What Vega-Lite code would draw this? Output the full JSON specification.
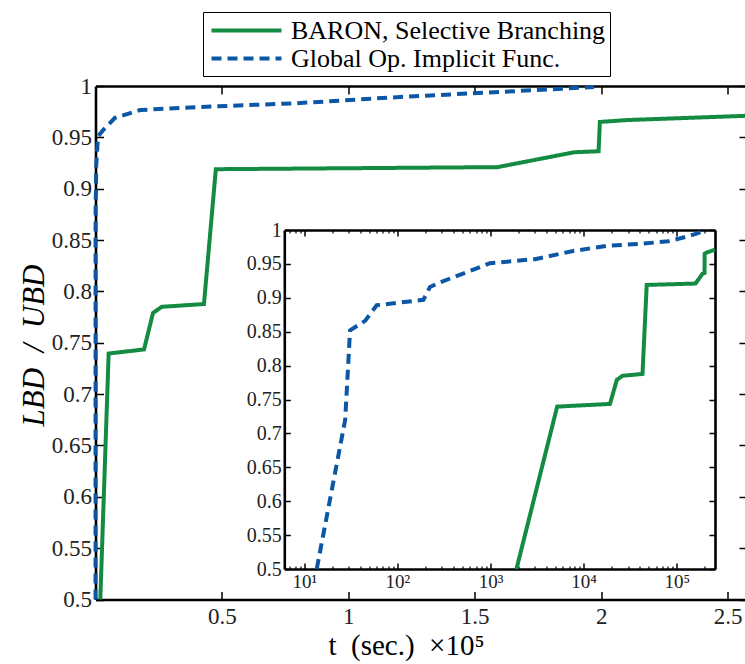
{
  "$schema": "https://vega.github.io/schema/vega-lite/v6.json",
  "autosize": "none",
  "padding": {"left": 95.5, "top": 86, "right": 0, "bottom": 64},
  "width": 651.5,
  "height": 513.5,
  "background": "white",
  "config": {
    "view": {"stroke": null},
    "font": "Liberation Serif, DejaVu Serif, serif",
    "axis": {
      "grid": false,
      "domainColor": "black",
      "domainWidth": 2.6,
      "tickColor": "black",
      "tickWidth": 1.5,
      "labelFont": "Liberation Serif, DejaVu Serif, serif",
      "labelColor": "#222",
      "labelFontWeight": "normal",
      "titleFont": "Liberation Serif, DejaVu Serif, serif",
      "titleColor": "black",
      "titleFontWeight": "normal"
    },
    "line": {"strokeCap": "butt"}
  },
  "datasets": {
    "runs": [
      {"series": "BARON, Selective Branching", "t": 1900, "v": 0.5},
      {"series": "BARON, Selective Branching", "t": 5200, "v": 0.7395},
      {"series": "BARON, Selective Branching", "t": 19200, "v": 0.7435},
      {"series": "BARON, Selective Branching", "t": 22750, "v": 0.779},
      {"series": "BARON, Selective Branching", "t": 26200, "v": 0.785},
      {"series": "BARON, Selective Branching", "t": 42900, "v": 0.7877},
      {"series": "BARON, Selective Branching", "t": 47600, "v": 0.919},
      {"series": "BARON, Selective Branching", "t": 159000, "v": 0.921},
      {"series": "BARON, Selective Branching", "t": 189400, "v": 0.9355},
      {"series": "BARON, Selective Branching", "t": 199000, "v": 0.9365},
      {"series": "BARON, Selective Branching", "t": 199500, "v": 0.965},
      {"series": "BARON, Selective Branching", "t": 210000, "v": 0.9668},
      {"series": "BARON, Selective Branching", "t": 257700, "v": 0.971},
      {"series": "Global Op. Implicit Func.", "t": 13.6, "v": 0.5},
      {"series": "Global Op. Implicit Func.", "t": 27.5, "v": 0.72},
      {"series": "Global Op. Implicit Func.", "t": 31, "v": 0.852},
      {"series": "Global Op. Implicit Func.", "t": 45, "v": 0.866},
      {"series": "Global Op. Implicit Func.", "t": 60, "v": 0.889},
      {"series": "Global Op. Implicit Func.", "t": 190, "v": 0.897},
      {"series": "Global Op. Implicit Func.", "t": 224, "v": 0.916},
      {"series": "Global Op. Implicit Func.", "t": 290, "v": 0.923},
      {"series": "Global Op. Implicit Func.", "t": 986, "v": 0.951},
      {"series": "Global Op. Implicit Func.", "t": 3000, "v": 0.957},
      {"series": "Global Op. Implicit Func.", "t": 7700, "v": 0.969},
      {"series": "Global Op. Implicit Func.", "t": 17600, "v": 0.9766},
      {"series": "Global Op. Implicit Func.", "t": 41300, "v": 0.9796},
      {"series": "Global Op. Implicit Func.", "t": 80900, "v": 0.9834},
      {"series": "Global Op. Implicit Func.", "t": 120400, "v": 0.9893},
      {"series": "Global Op. Implicit Func.", "t": 160000, "v": 0.9942},
      {"series": "Global Op. Implicit Func.", "t": 197200, "v": 0.999}
    ]
  },
  "data": {"name": "runs"},
  "layer": [
    {
      "mark": {"type": "line", "strokeWidth": 4},
      "encoding": {
        "x": {
          "field": "t", "type": "quantitative",
          "scale": {"domain": [0, 257700], "nice": false, "zero": false},
          "axis": {
            "orient": "bottom",
            "values": [50000, 100000, 150000, 200000, 250000],
            "labelExpr": "format(datum.value / 100000, '~g')",
            "labelFontSize": 23,
            "labelBaseline": "alphabetic",
            "labelPadding": 31.5,
            "tickSize": -8,
            "title": "t\u00a0\u00a0(sec.)\u00a0\u00a0×10⁵",
            "titleFontSize": 29,
            "titleAnchor": "start",
            "titleAlign": "center",
            "titleBaseline": "alphabetic",
            "titleX": 310.5,
            "titleY": 55
          }
        },
        "y": {
          "field": "v", "type": "quantitative",
          "scale": {"domain": [0.5, 1], "nice": false, "zero": false},
          "axis": {
            "orient": "left",
            "values": [0.5, 0.55, 0.6, 0.65, 0.7, 0.75, 0.8, 0.85, 0.9, 0.95, 1],
            "format": "~g",
            "labelFontSize": 23,
            "labelPadding": 12,
            "tickSize": -8,
            "title": "LBD\u00a0\u00a0/\u00a0\u00a0UBD",
            "titleFontSize": 31,
            "titleFontStyle": "italic",
            "titleAngle": -90,
            "titleAlign": "center",
            "titleBaseline": "alphabetic",
            "titleX": -52,
            "titleY": 259
          }
        },
        "color": {
          "field": "series", "type": "nominal",
          "scale": {
            "domain": ["BARON, Selective Branching", "Global Op. Implicit Func."],
            "range": ["#138b41", "#0b57a5"]
          },
          "legend": {
            "orient": "none",
            "legendX": 107.5,
            "legendY": -74,
            "direction": "vertical",
            "title": null,
            "fillColor": "white",
            "strokeColor": "black",
            "padding": 4,
            "symbolType": "M-2.8,0H2.8",
            "symbolSize": 625,
            "symbolStrokeWidth": 4,
            "symbolOffset": 25,
            "labelFont": "Liberation Serif, DejaVu Serif, serif",
            "labelFontSize": 26,
            "labelColor": "black",
            "labelOffset": 30,
            "labelLimit": 0,
            "rowPadding": 0
          }
        },
        "strokeDash": {
          "field": "series", "type": "nominal",
          "scale": {
            "domain": ["BARON, Selective Branching", "Global Op. Implicit Func."],
            "range": [[1, 0], [10, 6]]
          },
          "legend": null
        }
      }
    },
    {
      "mark": {"type": "line", "opacity": 0},
      "encoding": {
        "x": {
          "field": "t", "type": "quantitative",
          "scale": {"domain": [0, 257700], "nice": false, "zero": false},
          "axis": {
            "orient": "top",
            "values": [50000, 100000, 150000, 200000, 250000],
            "labels": false,
            "tickSize": -8,
            "title": null
          }
        },
        "y": {
          "field": "v", "type": "quantitative",
          "scale": {"domain": [0.5, 1], "nice": false, "zero": false},
          "axis": {
            "orient": "right",
            "values": [0.5, 0.55, 0.6, 0.65, 0.7, 0.75, 0.8, 0.85, 0.9, 0.95, 1],
            "labels": false,
            "tickSize": -8,
            "title": null
          }
        }
      }
    },
    {
      "mark": {"type": "line", "strokeWidth": 4},
      "encoding": {
        "x": {
          "field": "t", "type": "quantitative",
          "scale": {"type": "log", "domain": [6.1, 257700], "range": [188.8, 619.5], "nice": false},
          "axis": {
            "orient": "bottom",
            "offset": -30.5,
            "values": [10, 100, 1000, 10000, 100000],
            "labelExpr": "'10' + (datum.value < 15 ? '¹' : datum.value < 150 ? '²' : datum.value < 1500 ? '³' : datum.value < 15000 ? '⁴' : '⁵')",
            "labelFontSize": 19,
            "labelPadding": 9,
            "tickSize": -6,
            "title": null
          }
        },
        "y": {
          "field": "v", "type": "quantitative",
          "scale": {"domain": [0.5, 1], "range": [483, 144], "nice": false, "zero": false},
          "axis": {
            "orient": "left",
            "offset": -188.8,
            "values": [0.5, 0.55, 0.6, 0.65, 0.7, 0.75, 0.8, 0.85, 0.9, 0.95, 1],
            "format": "~g",
            "labelFontSize": 20,
            "labelPadding": 9,
            "tickSize": -6,
            "title": null
          }
        },
        "color": {"field": "series", "type": "nominal"},
        "strokeDash": {"field": "series", "type": "nominal", "legend": null}
      }
    },
    {
      "mark": {"type": "line", "opacity": 0},
      "encoding": {
        "x": {
          "field": "t", "type": "quantitative",
          "scale": {"type": "log", "domain": [6.1, 257700], "range": [188.8, 619.5], "nice": false},
          "axis": {
            "orient": "top",
            "offset": -144,
            "values": [10, 100, 1000, 10000, 100000],
            "labels": false,
            "tickSize": -6,
            "title": null
          }
        },
        "y": {
          "field": "v", "type": "quantitative",
          "scale": {"domain": [0.5, 1], "range": [483, 144], "nice": false, "zero": false},
          "axis": {
            "orient": "right",
            "offset": -32,
            "values": [0.5, 0.55, 0.6, 0.65, 0.7, 0.75, 0.8, 0.85, 0.9, 0.95, 1],
            "labels": false,
            "tickSize": -6,
            "title": null
          }
        }
      }
    },
    {
      "mark": {"type": "line", "opacity": 0},
      "encoding": {
        "x": {
          "field": "t", "type": "quantitative",
          "scale": {"type": "log", "domain": [6.1, 257700], "range": [188.8, 619.5], "nice": false},
          "axis": {
            "orient": "bottom",
            "offset": -30.5,
            "values": [7, 8, 9, 20, 30, 40, 50, 60, 70, 80, 90, 200, 300, 400, 500, 600, 700, 800, 900, 2000, 3000, 4000, 5000, 6000, 7000, 8000, 9000, 20000, 30000, 40000, 50000, 60000, 70000, 80000, 90000, 200000],
            "labels": false,
            "domain": false,
            "tickSize": -3,
            "tickWidth": 1.2,
            "title": null
          }
        }
      }
    },
    {
      "mark": {"type": "line", "opacity": 0},
      "encoding": {
        "x": {
          "field": "t", "type": "quantitative",
          "scale": {"type": "log", "domain": [6.1, 257700], "range": [188.8, 619.5], "nice": false},
          "axis": {
            "orient": "top",
            "offset": -144,
            "values": [7, 8, 9, 20, 30, 40, 50, 60, 70, 80, 90, 200, 300, 400, 500, 600, 700, 800, 900, 2000, 3000, 4000, 5000, 6000, 7000, 8000, 9000, 20000, 30000, 40000, 50000, 60000, 70000, 80000, 90000, 200000],
            "labels": false,
            "domain": false,
            "tickSize": -3,
            "tickWidth": 1.2,
            "title": null
          }
        }
      }
    }
  ],
  "resolve": {
    "scale": {"x": "independent", "y": "independent"},
    "axis": {"x": "independent", "y": "independent"}
  }
}
